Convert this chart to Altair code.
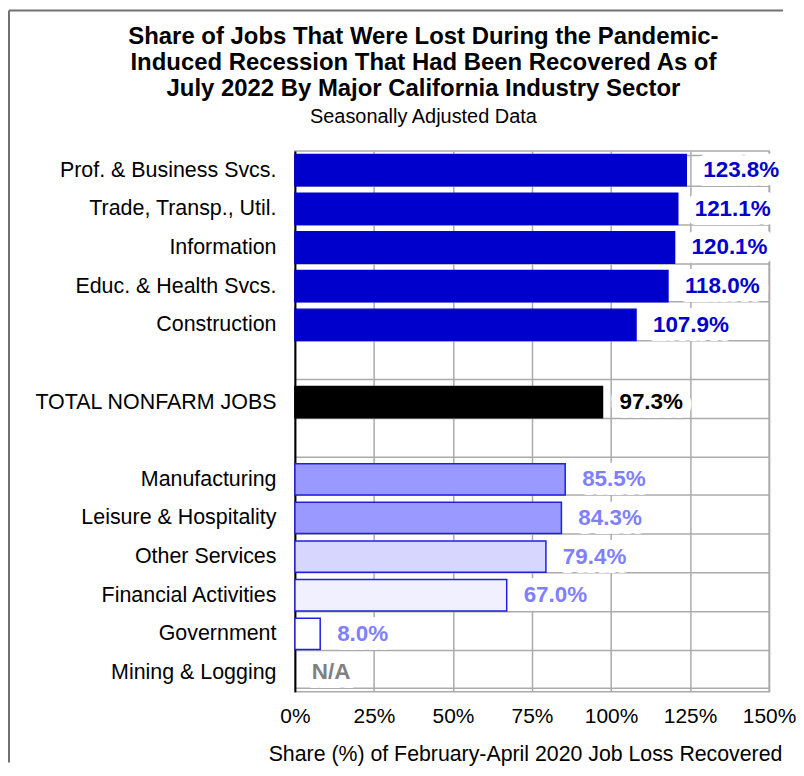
import altair as alt
import pandas as pd

FONT = "Liberation Sans, Arial, sans-serif"

sectors = [
    "Prof. & Business Svcs.",
    "Trade, Transp., Util.",
    "Information",
    "Educ. & Health Svcs.",
    "Construction",
    " ",
    "TOTAL NONFARM JOBS",
    "  ",
    "Manufacturing",
    "Leisure & Hospitality",
    "Other Services",
    "Financial Activities",
    "Government",
    "Mining & Logging",
]
values = [123.8, 121.1, 120.1, 118.0, 107.9, None, 97.3, None, 85.5, 84.3, 79.4, 67.0, 8.0, None]
labels = ["123.8%", "121.1%", "120.1%", "118.0%", "107.9%", "", "97.3%", "",
          "85.5%", "84.3%", "79.4%", "67.0%", "8.0%", "N/A"]
shade = ["above", "above", "above", "above", "above", "blank", "total", "blank",
         "t1", "t1", "t2", "t3", "t4", "na"]
xticks = [0, 25, 50, 75, 100, 125, 150]

df = pd.DataFrame({"sector": sectors, "value": values, "label": labels, "shade": shade})

shade_dom = ["above", "total", "t1", "t2", "t3", "t4", "na"]
fill_rng = ["#0000CC", "#000000", "#9999FF", "#D6D6FF", "#F0F0FF", "#FFFFFF", "#FFFFFF"]
stroke_rng = ["#0000CC", "#000000", "#2020DD", "#2020DD", "#2020DD", "#2020DD", "#FFFFFF"]
text_rng = ["#0000CC", "#000000", "#7F7FFF", "#7F7FFF", "#7F7FFF", "#7F7FFF", "#808080"]

xtitle = "Share (%) of February-April 2020 Job Loss Recovered"

yenc = alt.Y(
    "sector:N",
    scale=alt.Scale(domain=sectors, paddingInner=0.19, paddingOuter=0.095),
    axis=alt.Axis(
        title=None, ticks=False, labelFontSize=21.5, labelFont=FONT, labelColor="black",
        labelPadding=19, domainColor="black", domainWidth=2, grid=True,
        gridColor="#ABABAB", gridWidth=1.5, tickBand="extent", labelLimit=400,
    ),
)

xaxis = alt.Axis(
    values=xticks, labelExpr="datum.value + '%'", title=xtitle, grid=True,
    gridColor="#ABABAB", gridWidth=1.5, ticks=False, domain=False,
    labelFontSize=21, labelFont=FONT, labelColor="black", labelPadding=14,
    labelOverlap=False, labelFlush=False,
    titleFontSize=21.4, titleFont=FONT, titleFontWeight="normal", titleColor="black",
    titlePadding=17, titleX=231,
)
xscale = alt.Scale(domain=[0, 150], nice=False)

bars = alt.Chart(df).transform_filter("isValid(datum.value)").mark_bar(strokeWidth=1.5).encode(
    x=alt.X("value:Q", scale=xscale, axis=xaxis),
    y=yenc,
    fill=alt.Fill("shade:N", scale=alt.Scale(domain=shade_dom, range=fill_rng), legend=None),
    stroke=alt.Stroke("shade:N", scale=alt.Scale(domain=shade_dom, range=stroke_rng), legend=None),
)

label_base = alt.Chart(df).transform_filter("datum.label != ''").transform_calculate(
    xpos="isValid(datum.value) ? datum.value : 0"
)

halo = label_base.mark_text(
    align="left", baseline="middle", dx=17, fontSize=22.5, fontWeight="bold", font=FONT,
    color="white", stroke="white", strokeWidth=18, strokeJoin="round",
).encode(
    x=alt.X("xpos:Q", scale=xscale, axis=xaxis),
    y=yenc,
    text="label:N",
)

texts = label_base.mark_text(
    align="left", baseline="middle", dx=17, fontSize=22.5, fontWeight="bold", font=FONT
).encode(
    x=alt.X("xpos:Q", scale=xscale, axis=xaxis),
    y=yenc,
    text="label:N",
    color=alt.Color("shade:N", scale=alt.Scale(domain=shade_dom, range=text_rng), legend=None),
)

frame_data = alt.Data(values=[{"k": 1}])
left_rule = alt.Chart(frame_data).mark_rule(color="#707070", strokeWidth=2).encode(
    x=alt.value(-287), y=alt.value(-141), y2=alt.value(614)
)
top_rule = alt.Chart(frame_data).mark_rule(color="#707070", strokeWidth=2).encode(
    x=alt.value(-287), x2=alt.value(490), y=alt.value(-141)
)

chart = alt.layer(bars, halo, texts, left_rule, top_rule).resolve_scale(
    fill="independent", stroke="independent", color="independent"
).properties(
    width=476,
    height=543,
    padding={"left": 0, "top": 0, "right": 0, "bottom": 0},
    title=alt.TitleParams(
        text=["Share of Jobs That Were Lost During the Pandemic-",
              "Induced Recession That Had Been Recovered As of",
              "July 2022 By Major California Industry Sector"],
        subtitle="Seasonally Adjusted Data",
        font=FONT, fontSize=24, fontWeight="bold", color="black", lineHeight=26,
        subtitleFont=FONT, subtitleFontSize=20, subtitleColor="black",
        subtitlePadding=6, anchor="middle", frame="group", dx=-109, offset=-118,
    ),
).configure_view(stroke="#ABABAB", strokeWidth=1.5)

chart.save("out.html", embed_options={"renderer": "svg", "actions": False})
